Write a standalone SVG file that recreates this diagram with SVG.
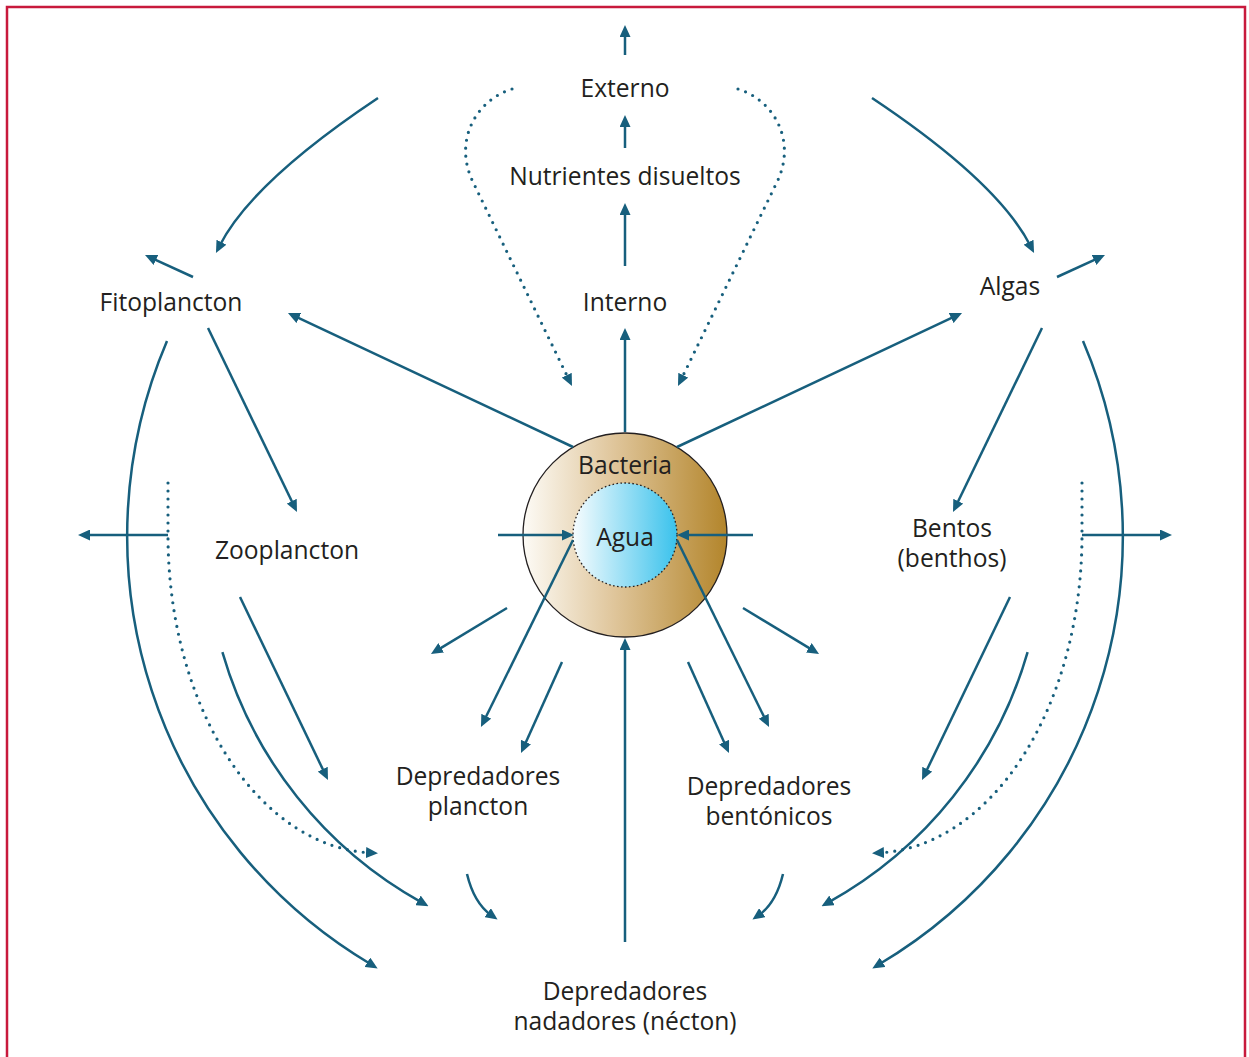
<svg xmlns="http://www.w3.org/2000/svg" width="1249" height="1057" viewBox="0 0 1249 1057">
  <defs>
    <style>
      .lbl { font-family: "Open Sans", "Noto Sans", "DejaVu Sans", sans-serif; font-size: 24.6px; fill: #231f20; text-anchor: middle; }
      .ln { fill: none; stroke: #175f7d; stroke-width: 2.5; stroke-linecap: butt; marker-end: url(#ah); }
      .dot { fill: none; stroke: #175f7d; stroke-width: 3.2; stroke-linecap: round; stroke-dasharray: 0 8; marker-end: url(#ah); }
    </style>
    <marker id="ah" markerUnits="userSpaceOnUse" viewBox="0 0 12 11" refX="4" refY="5.5" markerWidth="12" markerHeight="11" orient="auto">
      <path d="M0,0 L12,5.5 L0,11 Z" fill="#175f7d"/>
    </marker>
    <linearGradient id="gBact" x1="0" y1="0" x2="1" y2="0">
      <stop offset="0" stop-color="#fdfbf6"/>
      <stop offset="0.45" stop-color="#dfc59a"/>
      <stop offset="1" stop-color="#b3852b"/>
    </linearGradient>
    <linearGradient id="gAgua" x1="0" y1="0" x2="1" y2="0">
      <stop offset="0" stop-color="#f7fcfe"/>
      <stop offset="1" stop-color="#3ac2ec"/>
    </linearGradient>
  </defs>

  <rect width="1249" height="1057" fill="#ffffff"/>
  <!-- frame, open at the bottom -->
  <path d="M7,1060 L7,7 L1245,7 L1245,1060" fill="none" stroke="#c8193c" stroke-width="2.5"/>

  <!-- nodes -->
  <g id="node-bacteria">
    <circle cx="625" cy="535" r="102" fill="url(#gBact)" stroke="#231f20" stroke-width="1.3"/>
    <text class="lbl" x="625" y="474">Bacteria</text>
  </g>
  <g id="node-agua">
    <circle cx="625" cy="535" r="52" fill="url(#gAgua)" stroke="#231f20" stroke-width="1.3" stroke-dasharray="1.6 2.4"/>
    <text class="lbl" x="625" y="546">Agua</text>
  </g>
  <g id="node-externo"><text class="lbl" x="625" y="97">Externo</text></g>
  <g id="node-nutrientes"><text class="lbl" x="625" y="185">Nutrientes disueltos</text></g>
  <g id="node-interno"><text class="lbl" x="625" y="311">Interno</text></g>
  <g id="node-fitoplancton"><text class="lbl" x="171" y="311">Fitoplancton</text></g>
  <g id="node-algas"><text class="lbl" x="1010" y="295">Algas</text></g>
  <g id="node-zooplancton"><text class="lbl" x="287" y="559">Zooplancton</text></g>
  <g id="node-bentos">
    <text class="lbl" x="952" y="537">Bentos<tspan x="952" dy="30">(benthos)</tspan></text>
  </g>
  <g id="node-depredadores-plancton">
    <text class="lbl" x="478" y="785">Depredadores<tspan x="478" dy="30">plancton</tspan></text>
  </g>
  <g id="node-depredadores-bentonicos">
    <text class="lbl" x="769" y="795">Depredadores<tspan x="769" dy="30">bentónicos</tspan></text>
  </g>
  <g id="node-necton">
    <text class="lbl" x="625" y="1000">Depredadores<tspan x="625" dy="30">nadadores (nécton)</tspan></text>
  </g>

  <!-- connectors -->
  <g id="connectors">
    <!-- central column -->
    <path class="ln" d="M625,55 L625,33"/>
    <path class="ln" d="M625,148 L625,123"/>
    <path class="ln" d="M625,266 L625,211"/>
    <path class="ln" d="M625,432 L625,336"/>
    <path class="ln" d="M625,942 L625,646"/>

    <!-- dotted returns toward the bacteria -->
    <path class="dot" d="M512,89 C476,100 453,141 473,182 L568.5,378.8"/>
    <path class="dot" d="M738,89 C774,100 797,141 777,182 L681.5,378.8"/>

    <!-- top curves -->
    <path class="ln" d="M378,98 C300,150 243,200 219.6,245.8"/>
    <path class="ln" d="M872,98 C950,150 1007,200 1030.4,245.8"/>

    <!-- short exits -->
    <path class="ln" d="M193,277 L152.3,258.3"/>
    <path class="ln" d="M1057,277 L1097.7,258.3"/>

    <!-- bacteria to producers -->
    <path class="ln" d="M573,447 L295.2,316.4"/>
    <path class="ln" d="M677,447 L954.8,316.4"/>

    <!-- producers to consumers -->
    <path class="ln" d="M208,328 L293.5,504.8"/>
    <path class="ln" d="M1042,328 L956.5,504.8"/>
    <path class="ln" d="M240,597 L324.5,772.8"/>
    <path class="ln" d="M1010,597 L925.5,772.8"/>

    <!-- around the bacteria -->
    <path class="ln" d="M507,608 L437.8,649.9"/>
    <path class="ln" d="M743,608 L812.2,649.9"/>
    <path class="ln" d="M573,540 L484.5,719.8"/>
    <path class="ln" d="M677,540 L765.5,719.8"/>
    <path class="ln" d="M562,662 L524.3,745.7"/>
    <path class="ln" d="M688,662 L725.7,745.7"/>
    <path class="ln" d="M498,535 L566,535"/>
    <path class="ln" d="M753,535 L685,535"/>

    <!-- side exits -->
    <path class="ln" d="M168,535 L86,535"/>
    <path class="ln" d="M1082,535 L1164,535"/>

    <!-- outer arcs -->
    <path class="ln" d="M167,341 A498,498 0 0 0 370.8,964.3"/>
    <path class="ln" d="M1083,341 A498,498 0 0 1 879.2,964.3"/>

    <!-- middle arcs -->
    <path class="ln" d="M222.4,652.2 A419,419 0 0 0 421.5,902.3"/>
    <path class="ln" d="M1027.6,652.2 A419,419 0 0 1 828.5,902.3"/>

    <!-- dotted side arcs -->
    <path class="dot" d="M168,483 L168,535 A210,318 0 0 0 370,852.8"/>
    <path class="dot" d="M1082,483 L1082,535 A210,318 0 0 1 880,852.8"/>

    <!-- small bottom curves -->
    <path class="ln" d="M467,874 Q474,903 491,915"/>
    <path class="ln" d="M783,874 Q776,903 759,915"/>
  </g>
</svg>
